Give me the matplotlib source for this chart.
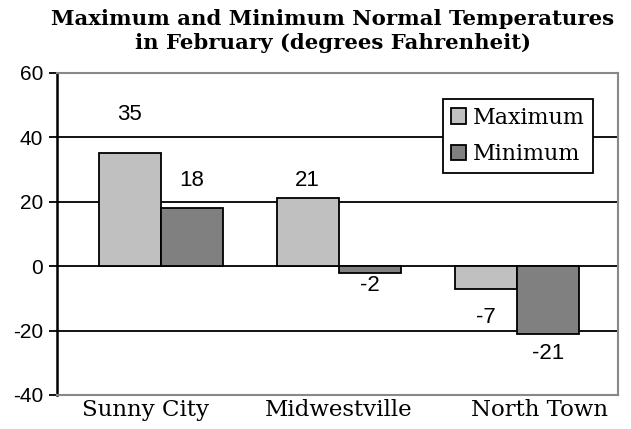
import numpy as np
import matplotlib.pyplot as plt

# data
cities = ['Sunny City', 'Midwestville', 'North Town']
maxTemps = [35, 21, -7]
minTemps = [18, -2, -21]
yTicks = [-40, -20, 0, 20, 40, 60]

# where the value labels sit (data units), as in the original
maxLabelY = [47, 26.5, -16]
minLabelY = [26.5, -6, -27]
# category label shifts in pixels (the original is not centred on the groups)
catShift = [-15, 0, 23]

fig = plt.figure(figsize=(6.31, 4.29), dpi=100)
ax = fig.add_axes([0.0903, 0.0793, 0.889, 0.751])

x = np.arange(len(cities))
w = 0.35
ax.bar(x - w/2, maxTemps, w, color='#c0c0c0', edgecolor='black', linewidth=1.3, label='Maximum', zorder=3)
ax.bar(x + w/2, minTemps, w, color='#808080', edgecolor='black', linewidth=1.3, label='Minimum', zorder=3)

# value labels
for i in range(len(cities)):
    ax.text(x[i] - w/2, maxLabelY[i], str(maxTemps[i]), ha='center', va='center',
            fontsize=16, family='Liberation Sans', zorder=4)
    ax.text(x[i] + w/2, minLabelY[i], str(minTemps[i]), ha='center', va='center',
            fontsize=16, family='Liberation Sans', zorder=4)

ax.set_xlim(-0.584, 2.568)
ax.set_ylim(-40, 60)
ax.set_yticks(yTicks)
ax.set_yticklabels([str(t) for t in yTicks], family='Liberation Sans', fontsize=15)
ax.set_xticks([])

# category labels drawn as text so they can sit where the original has them
for i in range(len(cities)):
    ax.annotate(cities[i], xy=(x[i], 0), xycoords=('data', 'axes fraction'),
                xytext=(catShift[i] * 0.72, -3), textcoords='offset points',
                ha='center', va='top', family='DejaVu Serif', fontsize=16.5)
ax.tick_params(axis='y', length=6, width=1.3, pad=4)

# horizontal grid lines
for t in yTicks[1:-1]:
    ax.axhline(t, color='black', linewidth=1.3, zorder=1)

for side in ['top', 'right', 'bottom']:
    ax.spines[side].set_color('#888888')
    ax.spines[side].set_linewidth(1.5)
ax.spines['left'].set_color('black')
ax.spines['left'].set_linewidth(1.8)

leg = ax.legend(loc='upper right', bbox_to_anchor=(0.955, 0.919), prop={'family': 'DejaVu Serif', 'size': 16},
                fancybox=False, framealpha=1, edgecolor='black', handlelength=0.7, handleheight=0.7,
                handletextpad=0.3, borderpad=0.35, labelspacing=0.65, borderaxespad=0)
leg.get_frame().set_linewidth(1.3)
leg.set_zorder(5)

fig.text(0.527, 0.98, 'Maximum and Minimum Normal Temperatures\nin February (degrees Fahrenheit)',
         ha='center', va='top', fontsize=15.3, fontweight='bold', family='DejaVu Serif', linespacing=1.3)

plt.savefig('out.png', dpi=100)
